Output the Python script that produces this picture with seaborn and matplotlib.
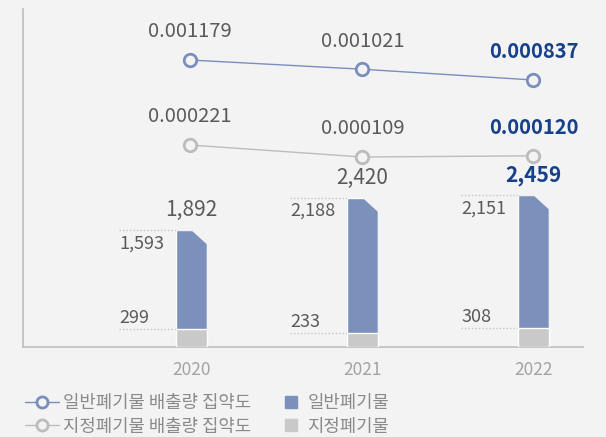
import matplotlib
matplotlib.use("Agg")
import matplotlib.pyplot as plt
from matplotlib.patches import Polygon
from matplotlib.lines import Line2D
import seaborn as sns
import pandas as pd

years = ["2020", "2021", "2022"]
general_waste = [1593, 2188, 2151]
designated_waste = [299, 233, 308]
total_waste = [1892, 2420, 2459]
general_intensity = [0.001179, 0.001021, 0.000837]
designated_intensity = [0.000221, 0.000109, 0.000120]
intensity_labels_general = ["0.001179", "0.001021", "0.000837"]
intensity_labels_designated = ["0.000221", "0.000109", "0.000120"]
line_legend_labels = ["일반폐기물 배출량 집약도", "지정폐기물 배출량 집약도"]
bar_legend_labels = ["일반폐기물", "지정폐기물"]

BG = "#f3f3f3"
BLUE_BAR = "#7b90bb"
GRAY_BAR = "#c9c9c9"
BLUE_LINE = "#7a8ebe"
GRAY_LINE = "#bcbcbc"
TEXT = "#5a5a5a"
NAVY = "#17408b"
LIGHT = "light"

sns.set_theme(style="white")
plt.rcParams["font.family"] = ["Noto Sans CJK KR", "DejaVu Sans"]

df = pd.DataFrame({
    "year": years,
    "total": total_waste,
    "designated": designated_waste,
    "general": general_waste,
})

fig = plt.figure(figsize=(6.06, 4.37), dpi=100, facecolor=BG)
ax = fig.add_axes([23 / 606, 90 / 437, 560 / 606, 338 / 437])
ax.set_facecolor(BG)

bar_w = 0.18
sns.barplot(data=df, x="year", y="total", color=BLUE_BAR, width=bar_w,
            saturation=1, ax=ax, zorder=2)
n_total = len(ax.patches)
sns.barplot(data=df, x="year", y="designated", color=GRAY_BAR, width=bar_w,
            saturation=1, ax=ax, zorder=3)

ax.set_xlim(-0.985, 2.29)
ax.set_ylim(0, 5480)
ax.set_xlabel("")
ax.set_ylabel("")
ax.set_yticks([])
for s in ["top", "right"]:
    ax.spines[s].set_visible(False)
for s in ["left", "bottom"]:
    ax.spines[s].set_color("#bdbdbd")
    ax.spines[s].set_linewidth(1.2)
ax.tick_params(axis="x", length=0, pad=10, labelsize=12.5, labelcolor="#a3a3a3")
for t in ax.get_xticklabels():
    t.set_fontweight(LIGHT)

# pixel-to-data helpers
px_y = 5480 / 338.0
px_x = (2.29 + 0.985) / 560.0

# cut the top-right corner of each total bar
for p in ax.patches[:n_total]:
    x0, w, h = p.get_x(), p.get_width(), p.get_height()
    cut = 14 * px_y
    clip = Polygon([(x0, 0), (x0, h), (x0 + w * 0.5, h), (x0 + w, h - cut), (x0 + w, 0)],
                   closed=True, transform=ax.transData, facecolor="none", edgecolor="none")
    ax.add_patch(clip)
    p.set_clip_path(clip)

# guide lines and stacked-value labels
for i, p in enumerate(ax.patches[:n_total]):
    x0 = p.get_x()
    xs = x0 - 57 * px_x
    for yv in (total_waste[i], designated_waste[i]):
        ax.plot([xs, x0], [yv, yv], ls=(0, (1, 1.5)), color="#c4c4c4", lw=1, zorder=1)
    ax.annotate(f"{general_waste[i]:,}", (xs, total_waste[i]), xytext=(0, -4),
                textcoords="offset pixels", ha="left", va="top", fontsize=13,
                color=TEXT, fontweight=LIGHT)
    ax.annotate(f"{designated_waste[i]:,}", (xs, designated_waste[i]), xytext=(0, 2),
                textcoords="offset pixels", ha="left", va="bottom", fontsize=13,
                color=TEXT, fontweight=LIGHT)
    last = i == len(years) - 1
    ax.annotate(f"{total_waste[i]:,}", (i, total_waste[i]), xytext=(0, 20),
                textcoords="offset pixels", ha="center", va="center",
                fontsize=15, color=NAVY if last else TEXT,
                fontweight="bold" if last else LIGHT)

# intensity lines on their own scales
ax_g = ax.twinx()
ax_d = ax.twinx()
for a in (ax_g, ax_d):
    a.set_xlim(ax.get_xlim())
    a.axis("off")
ax_g.set_ylim(-0.003729, 0.002051)
ax_d.set_ylim(-0.001664, 0.00149)

xpos = [-0.01, 1, 2]
sns.lineplot(x=xpos, y=general_intensity, ax=ax_g, color=BLUE_LINE, lw=1,
             marker="o", markersize=9, markerfacecolor=BG, markeredgecolor=BLUE_LINE,
             markeredgewidth=2, zorder=4)
sns.lineplot(x=xpos, y=designated_intensity, ax=ax_d, color=GRAY_LINE, lw=1,
             marker="o", markersize=9, markerfacecolor=BG, markeredgecolor=GRAY_LINE,
             markeredgewidth=2, zorder=4)

for a, vals, labs in ((ax_g, general_intensity, intensity_labels_general),
                      (ax_d, designated_intensity, intensity_labels_designated)):
    for i, (v, t) in enumerate(zip(vals, labs)):
        last = i == len(vals) - 1
        a.annotate(t, (xpos[i], v), xytext=(0, 28), textcoords="offset pixels",
                   ha="center", va="center", fontsize=14.5,
                   color=NAVY if last else TEXT,
                   fontweight="bold" if last else LIGHT)

line_handles = [
    Line2D([], [], color=BLUE_LINE, lw=1, marker="o", markersize=8,
           markerfacecolor=BG, markeredgecolor=BLUE_LINE, markeredgewidth=2),
    Line2D([], [], color=GRAY_LINE, lw=1, marker="o", markersize=8,
           markerfacecolor=BG, markeredgecolor=GRAY_LINE, markeredgewidth=2),
]
bar_handles = [
    Line2D([], [], ls="none", marker="s", markersize=9, color=BLUE_BAR),
    Line2D([], [], ls="none", marker="s", markersize=9, color=GRAY_BAR),
]
legend_font = {"size": 12.8, "weight": LIGHT}
leg1 = fig.legend(line_handles, line_legend_labels, loc="center left",
                  bbox_to_anchor=(11 / 606, 1 - 415 / 437), frameon=False,
                  prop=legend_font, labelcolor="#8a8a8a", handlelength=1.9,
                  handletextpad=0.2, labelspacing=0.3, borderpad=0.3)
leg2 = fig.legend(bar_handles, bar_legend_labels, loc="center left",
                  bbox_to_anchor=(270 / 606, 1 - 415 / 437), frameon=False,
                  prop=legend_font, labelcolor="#8a8a8a", handlelength=0.8,
                  handletextpad=0.5, labelspacing=0.3, borderpad=0.3)

fig.savefig("out.png", dpi=100, facecolor=BG)
